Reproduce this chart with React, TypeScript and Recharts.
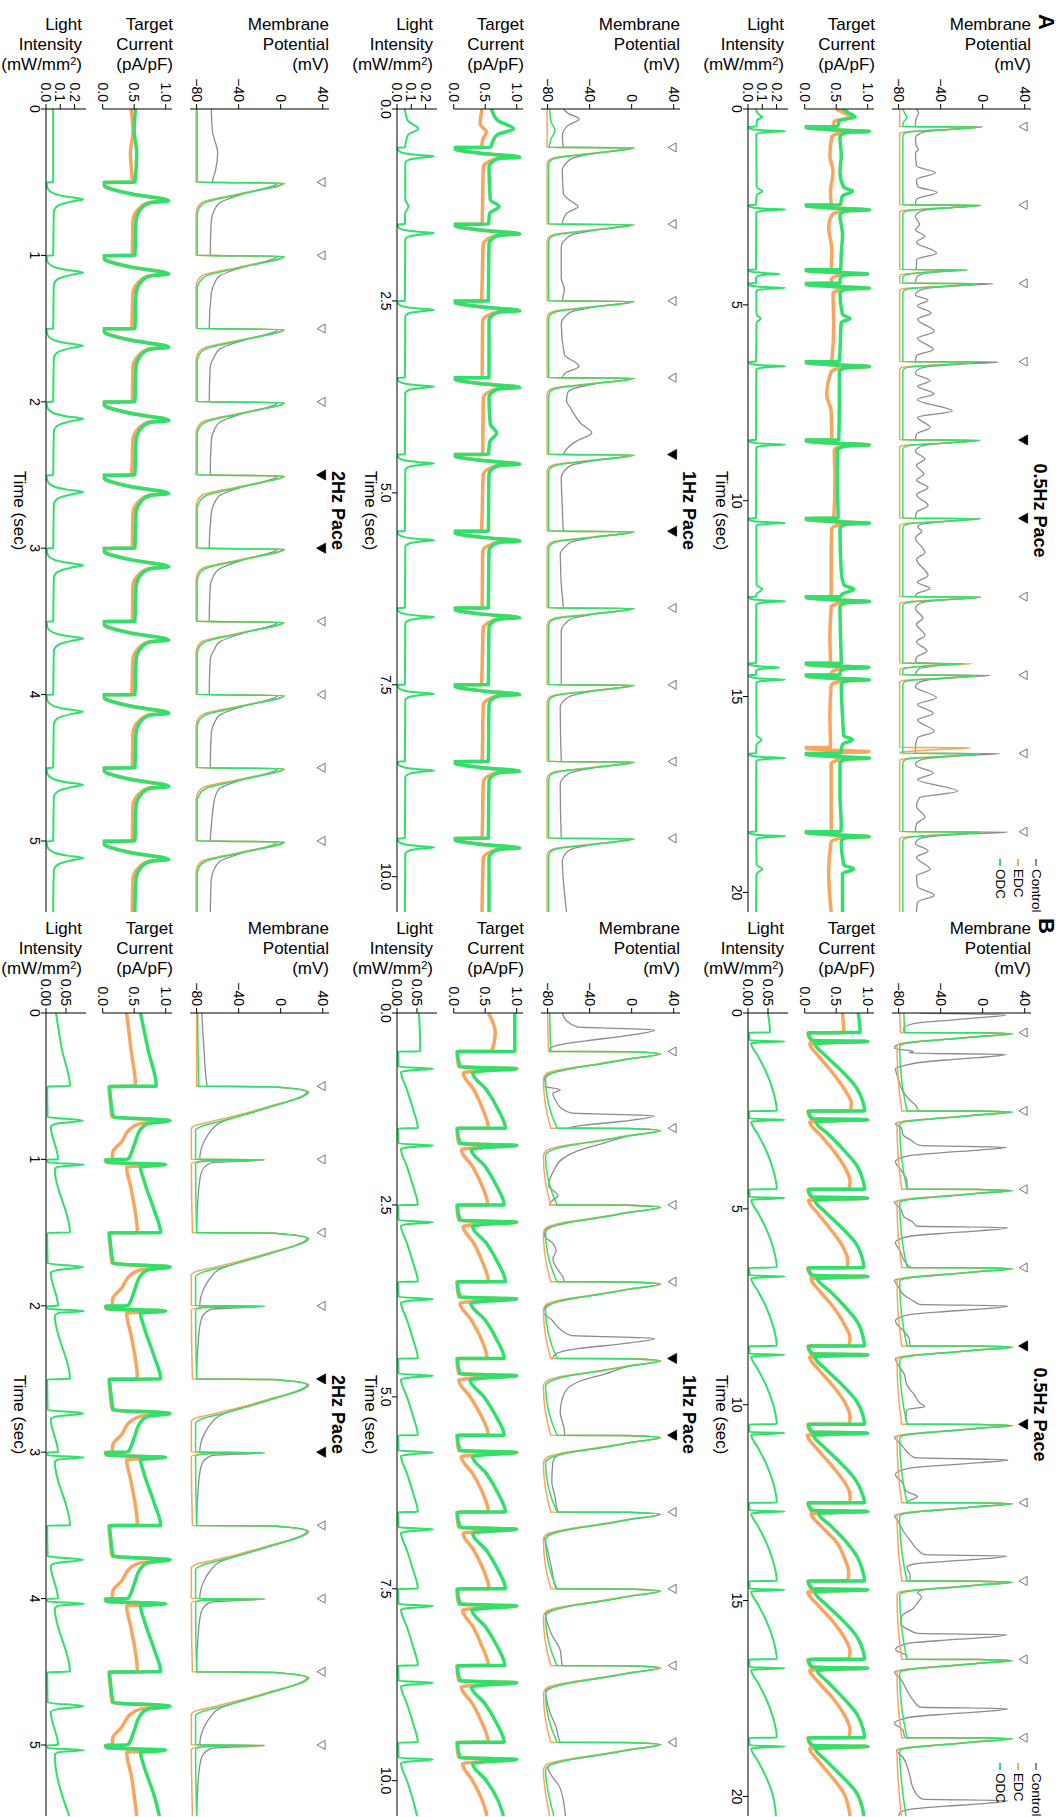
import React from 'react'
import { ComposedChart, Line, XAxis, YAxis, Scatter } from 'recharts'

const FONT = '"Liberation Sans", Arial, Helvetica, sans-serif'
const GRAY = '#8c8c8c'
const ORANGE = '#f9a55e'
const GREEN = '#30e06a'

// ---------- paced beats (s) ----------
const a05Beats = [0.45, 2.45, 4.45, 6.45, 8.45, 10.45, 12.45, 14.45, 16.45, 18.45]
const a05Filled = [8.45, 10.45]
const a1Beats = [0.5, 1.5, 2.5, 3.5, 4.5, 5.5, 6.5, 7.5, 8.5, 9.5]
const a1Filled = [4.5, 5.5]
const a2Beats = [0.5, 1, 1.5, 2, 2.5, 3, 3.5, 4, 4.5, 5]
const a2Filled = [2.5, 3]
const b05Beats = [0.5, 2.5, 4.5, 6.5, 8.5, 10.5, 12.5, 14.5, 16.5, 18.5]
const b05Filled = [8.5, 10.5]
const b1Beats = [0.5, 1.5, 2.5, 3.5, 4.5, 5.5, 6.5, 7.5, 8.5, 9.5]
const b1Filled = [4.5, 5.5]
const b2Beats = [0.5, 1, 1.5, 2, 2.5, 3, 3.5, 4, 4.5, 5]
const b2Filled = [2.5, 3]

// ---------- tick labels ----------
const t05Ticks = [0, 5, 10, 15, 20]
const t1Ticks = [0, 2.5, 5, 7.5, 10]
const t2Ticks = [0, 1, 2, 3, 4, 5]
const mpTicks = [-80, -40, 0, 40]
const tcTicks = [0, 0.5, 1]
const liTicksA = [0, 0.1, 0.2]
const liTicksB = [0, 0.05]

// ---------- A, 0.5 Hz : [time s, value] ----------
const a05MpCtrl = [
  [0, -63], [0.1, -61], [0.22, -63], [0.35, -64], [0.45, -64],
  [0.456, 0], [0.53, -36], [0.59, -56], [0.66, -62], [0.75, -64], [0.95, -63], [1.03, -61], [1.12, -64], [1.45, -63], [1.63, -45], [1.8, -63], [1.98, -62], [2.13, -43.5], [2.3, -63], [2.45, -64],
  [2.456, -2], [2.53, -36], [2.59, -56], [2.66, -62], [2.75, -64], [2.95, -60], [3.08, -64], [3.25, -55], [3.4, -63], [3.68, -44], [3.85, -63], [4.05, -63], [4.1, -64], [4.106, -25], [4.2, -56], [4.3, -63], [4.45, -64],
  [4.456, 10], [4.53, -33], [4.59, -55], [4.66, -62], [4.75, -64], [4.88, -52], [5.02, -62], [5.21, -49], [5.37, -62], [5.68, -46], [5.85, -62], [6.14, -47], [6.3, -63], [6.45, -64],
  [6.456, 15], [6.53, -32], [6.59, -55], [6.66, -62], [6.75, -64], [6.94, -50], [7.08, -62], [7.27, -46], [7.42, -62], [7.71, -29], [7.87, -62], [8.13, -50], [8.3, -63], [8.45, -64],
  [8.456, -3], [8.53, -36], [8.59, -56], [8.66, -62], [8.75, -64], [8.93, -55], [9.1, -63], [9.32, -56], [9.48, -63], [9.66, -52], [9.85, -63], [10.12, -52], [10.3, -63], [10.45, -64],
  [10.456, -2], [10.53, -36], [10.59, -56], [10.66, -62], [10.78, -58], [10.95, -64], [11.32, -55], [11.5, -63], [11.91, -52], [12.08, -62], [12.24, -50], [12.38, -63], [12.45, -64],
  [12.456, -2], [12.53, -36], [12.59, -56], [12.66, -62], [12.75, -64], [13.0, -57], [13.15, -63], [13.44, -55], [13.6, -63], [13.84, -53], [14.0, -63], [14.12, -64], [14.17, -35], [14.28, -60], [14.45, -64],
  [14.456, 7], [14.53, -34], [14.59, -55], [14.66, -62], [14.75, -64], [15.03, -44], [15.2, -62], [15.43, -47], [15.6, -62], [15.89, -46], [16.05, -62], [16.3, -64], [16.45, -64],
  [16.456, 16], [16.53, -32], [16.59, -55], [16.66, -62], [16.75, -64], [16.95, -47], [17.12, -62], [17.42, -24], [17.58, -60], [17.8, -63], [18.08, -55], [18.25, -63], [18.45, -64],
  [18.456, 24], [18.53, -30], [18.59, -54], [18.66, -62], [18.75, -64], [18.94, -52], [19.1, -63], [19.41, -50], [19.58, -63], [19.85, -62], [20.07, -46], [20.25, -62], [20.5, -63],
]
const a05MpEdc = [
  [0, -79], [0.45, -79], [0.456, -2], [0.53, -40], [0.585, -74], [0.63, -79],
  [2.45, -79], [2.456, -2], [2.53, -40], [2.585, -74], [2.63, -79],
  [4.1, -79], [4.106, -14], [4.17, -55], [4.23, -78], [4.28, -79],
  [4.45, -79], [4.456, -4], [4.53, -40], [4.585, -74], [4.63, -79],
  [6.45, -79], [6.456, -5], [6.53, -40], [6.585, -74], [6.63, -79],
  [8.45, -79], [8.456, -2], [8.53, -40], [8.585, -74], [8.63, -79],
  [10.45, -79], [10.456, -2], [10.53, -40], [10.585, -74], [10.63, -79],
  [12.45, -79], [12.456, -2], [12.53, -40], [12.585, -74], [12.63, -79],
  [14.15, -79], [14.156, -10], [14.22, -52], [14.28, -77], [14.33, -79],
  [14.45, -79], [14.456, -3], [14.53, -40], [14.585, -74], [14.63, -79],
  [16.3, -79], [16.306, -12], [16.37, -54], [16.42, -78],
  [16.45, -79], [16.456, -2], [16.53, -40], [16.585, -74], [16.63, -79],
  [18.45, -79], [18.456, -2], [18.53, -40], [18.585, -74], [18.63, -79], [20.5, -79],
]
const a05MpOdc = [
  [0, -76], [0.12, -74], [0.22, -72], [0.32, -75], [0.45, -76], [0.456, -2], [0.53, -37], [0.59, -70], [0.64, -75], [0.7, -76],
  [2.45, -76], [2.456, -2], [2.53, -37], [2.59, -70], [2.64, -75], [2.7, -76],
  [4.1, -76], [4.106, -15], [4.17, -52], [4.23, -73], [4.3, -76],
  [4.45, -76], [4.456, -4], [4.53, -38], [4.59, -70], [4.64, -75], [4.7, -76],
  [6.45, -76], [6.456, -5], [6.53, -38], [6.59, -70], [6.64, -75], [6.7, -76],
  [8.45, -76], [8.456, -3], [8.53, -37], [8.59, -70], [8.64, -75], [8.7, -76],
  [10.45, -76], [10.456, -2], [10.53, -37], [10.59, -70], [10.64, -75], [10.7, -76],
  [12.45, -76], [12.456, -2], [12.53, -37], [12.59, -70], [12.64, -75], [12.7, -76],
  [14.15, -76], [14.156, -18], [14.22, -55], [14.28, -74], [14.33, -76],
  [14.45, -76], [14.456, -3], [14.53, -37], [14.59, -70], [14.64, -75], [14.7, -76],
  [16.45, -76], [16.456, -2], [16.53, -37], [16.59, -70], [16.64, -75], [16.7, -76],
  [18.45, -76], [18.456, -2], [18.53, -37], [18.59, -70], [18.64, -75], [18.7, -76], [20.5, -76],
]
const a05TcEdc = [
  [0, 0.5], [0.1, 0.62], [0.2, 0.75], [0.3, 0.48], [0.45, 0.44],
  [0.452, 0], [0.48, 0.04], [0.53, 0.45], [0.575, 1.02], [0.59, 0.72], [0.62, 0.55], [0.71, 0.43], [1.2, 0.4], [1.6, 0.45], [2.1, 0.41], [2.45, 0.42],
  [2.452, 0], [2.48, 0.04], [2.53, 0.45], [2.575, 1.02], [2.59, 0.72], [2.62, 0.55], [2.71, 0.43], [3.0, 0.38], [3.6, 0.43], [4.1, 0.42],
  [4.102, 0], [4.13, 0.04], [4.17, 0.45], [4.21, 1.0], [4.225, 0.7], [4.26, 0.5], [4.35, 0.42], [4.45, 0.44],
  [4.452, 0], [4.48, 0.04], [4.53, 0.45], [4.575, 1.02], [4.59, 0.72], [4.62, 0.55], [4.71, 0.45], [5.5, 0.46], [6.45, 0.43],
  [6.452, 0], [6.48, 0.04], [6.53, 0.45], [6.575, 1.02], [6.59, 0.72], [6.62, 0.55], [6.71, 0.42], [7.3, 0.35], [7.7, 0.42], [8.45, 0.43],
  [8.452, 0], [8.48, 0.04], [8.53, 0.45], [8.575, 1.02], [8.59, 0.72], [8.62, 0.55], [8.71, 0.47], [9.5, 0.48], [10.45, 0.46],
  [10.452, 0], [10.48, 0.04], [10.53, 0.45], [10.575, 1.02], [10.59, 0.72], [10.62, 0.55], [10.71, 0.43], [11.5, 0.42], [12.45, 0.42],
  [12.452, 0], [12.48, 0.04], [12.53, 0.45], [12.575, 1.02], [12.59, 0.72], [12.62, 0.55], [12.71, 0.42], [13.5, 0.4], [14.15, 0.41],
  [14.152, 0], [14.18, 0.04], [14.22, 0.45], [14.26, 1.02], [14.275, 0.7], [14.31, 0.5], [14.4, 0.42], [14.45, 0.42],
  [14.452, 0], [14.48, 0.04], [14.53, 0.45], [14.575, 1.02], [14.59, 0.72], [14.62, 0.55], [14.71, 0.42], [15.5, 0.4], [16.3, 0.41],
  [16.302, 0], [16.33, 0.04], [16.37, 0.45], [16.41, 1.02], [16.425, 0.7], [16.44, 0.5], [16.45, 0.45],
  [16.452, 0], [16.48, 0.04], [16.53, 0.45], [16.575, 1.02], [16.59, 0.72], [16.62, 0.55], [16.71, 0.42], [17.5, 0.42], [18.45, 0.42],
  [18.452, 0], [18.48, 0.04], [18.53, 0.45], [18.575, 1.02], [18.59, 0.72], [18.62, 0.55], [18.71, 0.42], [19.5, 0.38], [20.5, 0.42],
]
const a05TcOdc = [
  [0, 0.6], [0.1, 0.7], [0.2, 0.8], [0.3, 0.55], [0.45, 0.52],
  [0.452, 0], [0.48, 0.04], [0.53, 0.45], [0.577, 1.03], [0.59, 0.75], [0.62, 0.62], [0.71, 0.56], [1.2, 0.58], [1.6, 0.56], [2.0, 0.62], [2.1, 0.76], [2.22, 0.6], [2.45, 0.56],
  [2.452, 0], [2.48, 0.04], [2.53, 0.45], [2.577, 1.03], [2.59, 0.75], [2.62, 0.62], [2.71, 0.56], [3.2, 0.6], [3.7, 0.58], [4.1, 0.57],
  [4.102, 0], [4.13, 0.04], [4.17, 0.45], [4.21, 1.0], [4.225, 0.72], [4.26, 0.6], [4.35, 0.56], [4.45, 0.56],
  [4.452, 0], [4.48, 0.04], [4.53, 0.45], [4.577, 1.03], [4.59, 0.75], [4.62, 0.62], [4.71, 0.56], [5.25, 0.6], [5.35, 0.72], [5.45, 0.58], [6.45, 0.55],
  [6.452, 0], [6.48, 0.04], [6.53, 0.45], [6.577, 1.03], [6.59, 0.75], [6.62, 0.62], [6.71, 0.55], [7.5, 0.55], [8.45, 0.54],
  [8.452, 0], [8.48, 0.04], [8.53, 0.45], [8.577, 1.03], [8.59, 0.75], [8.62, 0.62], [8.71, 0.52], [9.6, 0.52], [10.45, 0.53],
  [10.452, 0], [10.48, 0.04], [10.53, 0.45], [10.577, 1.03], [10.59, 0.75], [10.62, 0.62], [10.71, 0.56], [11.8, 0.58], [12.15, 0.62], [12.26, 0.78], [12.38, 0.6], [12.45, 0.56],
  [12.452, 0], [12.48, 0.04], [12.53, 0.45], [12.577, 1.03], [12.59, 0.75], [12.62, 0.62], [12.71, 0.56], [13.5, 0.57], [14.15, 0.58],
  [14.152, 0], [14.18, 0.04], [14.22, 0.45], [14.26, 1.02], [14.275, 0.72], [14.31, 0.6], [14.4, 0.56], [14.45, 0.56],
  [14.452, 0], [14.48, 0.04], [14.53, 0.45], [14.577, 1.03], [14.59, 0.75], [14.62, 0.62], [14.71, 0.58], [15.5, 0.6], [16.0, 0.62], [16.1, 0.76], [16.22, 0.6], [16.45, 0.57],
  [16.452, 0], [16.48, 0.04], [16.53, 0.45], [16.577, 1.03], [16.59, 0.75], [16.62, 0.62], [16.71, 0.56], [17.5, 0.56], [18.3, 0.58], [18.45, 0.57],
  [18.452, 0], [18.48, 0.04], [18.53, 0.45], [18.577, 1.03], [18.59, 0.75], [18.62, 0.62], [18.71, 0.58], [19.3, 0.62], [19.4, 0.78], [19.52, 0.6], [20.5, 0.6],
]
const a05LiOdc = [
  [0, 0.055], [0.12, 0.07], [0.2, 0.1], [0.28, 0.065], [0.45, 0.056],
  [0.452, 0.004], [0.49, 0.01], [0.53, 0.06], [0.55, 0.15], [0.566, 0.26], [0.58, 0.19], [0.61, 0.085], [0.65, 0.058], [2.0, 0.06], [2.1, 0.1], [2.2, 0.06], [2.45, 0.056],
  [2.452, 0.004], [2.49, 0.01], [2.53, 0.06], [2.55, 0.15], [2.566, 0.26], [2.58, 0.19], [2.61, 0.085], [2.65, 0.058], [4.1, 0.056],
  [4.102, 0.004], [4.14, 0.01], [4.17, 0.06], [4.19, 0.13], [4.21, 0.22], [4.225, 0.15], [4.26, 0.07], [4.3, 0.056], [4.45, 0.056],
  [4.452, 0.004], [4.49, 0.01], [4.53, 0.06], [4.55, 0.15], [4.566, 0.26], [4.58, 0.19], [4.61, 0.085], [4.65, 0.058], [5.25, 0.06], [5.35, 0.09], [5.45, 0.06], [6.45, 0.056],
  [6.452, 0.004], [6.49, 0.01], [6.53, 0.06], [6.55, 0.15], [6.566, 0.26], [6.58, 0.19], [6.61, 0.085], [6.65, 0.058], [8.45, 0.056],
  [8.452, 0.004], [8.49, 0.01], [8.53, 0.06], [8.55, 0.15], [8.566, 0.26], [8.58, 0.19], [8.61, 0.085], [8.65, 0.058], [10.45, 0.056],
  [10.452, 0.004], [10.49, 0.01], [10.53, 0.06], [10.55, 0.15], [10.566, 0.26], [10.58, 0.19], [10.61, 0.085], [10.65, 0.058], [12.15, 0.06], [12.26, 0.1], [12.38, 0.06], [12.45, 0.056],
  [12.452, 0.004], [12.49, 0.01], [12.53, 0.06], [12.55, 0.15], [12.566, 0.26], [12.58, 0.19], [12.61, 0.085], [12.65, 0.058], [14.15, 0.056],
  [14.152, 0.004], [14.19, 0.01], [14.22, 0.06], [14.24, 0.13], [14.26, 0.22], [14.275, 0.15], [14.31, 0.07], [14.35, 0.056], [14.45, 0.056],
  [14.452, 0.004], [14.49, 0.01], [14.53, 0.06], [14.55, 0.15], [14.566, 0.26], [14.58, 0.19], [14.61, 0.085], [14.65, 0.058], [16.0, 0.06], [16.1, 0.095], [16.22, 0.06], [16.45, 0.056],
  [16.452, 0.004], [16.49, 0.01], [16.53, 0.06], [16.55, 0.15], [16.566, 0.26], [16.58, 0.19], [16.61, 0.085], [16.65, 0.058], [18.45, 0.056],
  [18.452, 0.004], [18.49, 0.01], [18.53, 0.06], [18.55, 0.15], [18.566, 0.26], [18.58, 0.19], [18.61, 0.085], [18.65, 0.058], [19.3, 0.06], [19.4, 0.1], [19.52, 0.06], [20.5, 0.056],
]

// ---------- A, 1 Hz ----------
const a1MpCtrl = [
  [0, -65], [0.06, -60], [0.13, -50], [0.22, -61], [0.35, -66], [0.5, -65],
  [0.506, -2], [0.58, -36], [0.64, -56], [0.7, -62], [0.8, -66], [1.1, -65], [1.2, -58], [1.27, -51], [1.36, -62], [1.5, -66],
  [1.506, -2], [1.58, -36], [1.64, -57], [1.7, -63], [1.8, -67], [2.2, -67], [2.35, -64], [2.5, -66],
  [2.506, -2], [2.58, -36], [2.64, -57], [2.7, -63], [2.8, -67], [3.2, -64], [3.35, -50], [3.44, -63], [3.5, -66],
  [3.506, -1], [3.58, -35], [3.64, -55], [3.7, -61], [3.8, -62], [3.9, -58], [4.1, -48], [4.22, -38], [4.33, -53], [4.45, -63], [4.5, -65],
  [4.506, -2], [4.58, -36], [4.64, -57], [4.7, -63], [4.8, -67], [5.2, -66], [5.5, -65],
  [5.506, -2], [5.58, -36], [5.64, -57], [5.7, -63], [5.8, -68], [6.5, -65],
  [6.506, -2], [6.58, -36], [6.64, -57], [6.7, -63], [6.8, -67], [7.5, -67],
  [7.506, -2], [7.58, -36], [7.64, -57], [7.7, -64], [7.8, -68], [8.5, -67],
  [8.506, -2], [8.58, -36], [8.64, -57], [8.7, -64], [8.8, -68], [9.5, -67],
  [9.506, -2], [9.58, -36], [9.64, -57], [9.7, -63], [9.8, -66], [10.2, -64], [10.46, -62],
]
const a1MpEdc = [
  [0, -80.5], [0.5, -80.5], [0.506, 3], [0.58, -40], [0.635, -74], [0.68, -79.5], [0.72, -80.5],
  [1.5, -80.5], [1.506, 3], [1.58, -40], [1.635, -74], [1.68, -79.5], [1.72, -80.5],
  [2.5, -80.5], [2.506, 3], [2.58, -40], [2.635, -74], [2.68, -79.5], [2.72, -80.5],
  [3.5, -80.5], [3.506, 3], [3.58, -40], [3.635, -74], [3.68, -79.5], [3.72, -80.5],
  [4.5, -80.5], [4.506, 3], [4.58, -40], [4.635, -74], [4.68, -79.5], [4.72, -80.5],
  [5.5, -80.5], [5.506, 3], [5.58, -40], [5.635, -74], [5.68, -79.5], [5.72, -80.5],
  [6.5, -80.5], [6.506, 3], [6.58, -40], [6.635, -74], [6.68, -79.5], [6.72, -80.5],
  [7.5, -80.5], [7.506, 3], [7.58, -40], [7.635, -74], [7.68, -79.5], [7.72, -80.5],
  [8.5, -80.5], [8.506, 3], [8.58, -40], [8.635, -74], [8.68, -79.5], [8.72, -80.5],
  [9.5, -80.5], [9.506, 3], [9.58, -40], [9.635, -74], [9.68, -79.5], [9.72, -80.5], [10.46, -80.5],
]
const a1MpOdc = [
  [0, -78], [0.15, -77], [0.28, -73], [0.4, -77], [0.5, -78.5],
  [0.506, 2], [0.58, -37], [0.64, -72], [0.69, -78], [0.74, -79], [1.5, -79],
  [1.506, 2], [1.58, -37], [1.64, -72], [1.69, -78], [1.74, -79], [2.5, -79],
  [2.506, 2], [2.58, -37], [2.64, -72], [2.69, -78], [2.74, -79], [3.5, -79],
  [3.506, 2], [3.58, -37], [3.64, -72], [3.69, -78], [3.74, -79], [4.5, -79],
  [4.506, 2], [4.58, -37], [4.64, -72], [4.69, -78], [4.74, -79], [5.5, -79],
  [5.506, 2], [5.58, -37], [5.64, -72], [5.69, -78], [5.74, -79], [6.5, -79],
  [6.506, 2], [6.58, -37], [6.64, -72], [6.69, -78], [6.74, -79], [7.5, -79],
  [7.506, 2], [7.58, -37], [7.64, -72], [7.69, -78], [7.74, -79], [8.5, -79],
  [8.506, 2], [8.58, -37], [8.64, -72], [8.69, -78], [8.74, -79], [9.5, -79],
  [9.506, 2], [9.58, -37], [9.64, -72], [9.69, -78], [9.74, -79], [10.46, -79],
]
const a1TcEdc = [
  [0, 0.45], [0.2, 0.42], [0.3, 0.52], [0.4, 0.46], [0.5, 0.44],
  [0.502, 0], [0.53, 0.05], [0.58, 0.47], [0.625, 1.03], [0.64, 0.72], [0.67, 0.6], [0.76, 0.47], [1.5, 0.45],
  [1.502, 0], [1.53, 0.05], [1.58, 0.47], [1.625, 1.03], [1.64, 0.72], [1.67, 0.6], [1.76, 0.47], [2.5, 0.44],
  [2.502, 0], [2.53, 0.05], [2.58, 0.47], [2.625, 1.03], [2.64, 0.72], [2.67, 0.6], [2.76, 0.46], [3.5, 0.45],
  [3.502, 0], [3.53, 0.05], [3.58, 0.47], [3.625, 1.03], [3.64, 0.72], [3.67, 0.6], [3.76, 0.47], [4.5, 0.46],
  [4.502, 0], [4.53, 0.05], [4.58, 0.47], [4.625, 1.03], [4.64, 0.72], [4.67, 0.6], [4.76, 0.47], [5.5, 0.44],
  [5.502, 0], [5.53, 0.05], [5.58, 0.47], [5.625, 1.03], [5.64, 0.72], [5.67, 0.6], [5.76, 0.46], [6.5, 0.45],
  [6.502, 0], [6.53, 0.05], [6.58, 0.47], [6.625, 1.03], [6.64, 0.72], [6.67, 0.6], [6.76, 0.47], [7.5, 0.44],
  [7.502, 0], [7.53, 0.05], [7.58, 0.47], [7.625, 1.03], [7.64, 0.72], [7.67, 0.6], [7.76, 0.47], [8.5, 0.45],
  [8.502, 0], [8.53, 0.05], [8.58, 0.47], [8.625, 1.03], [8.64, 0.72], [8.67, 0.6], [8.76, 0.47], [9.5, 0.45],
  [9.502, 0], [9.53, 0.05], [9.58, 0.47], [9.625, 1.03], [9.64, 0.72], [9.67, 0.6], [9.76, 0.47], [10.46, 0.45],
]
const a1TcOdc = [
  [0, 0.6], [0.15, 0.7], [0.26, 0.95], [0.33, 0.7], [0.42, 0.62], [0.5, 0.58],
  [0.502, 0], [0.53, 0.04], [0.58, 0.45], [0.627, 1.05], [0.64, 0.76], [0.67, 0.64], [0.76, 0.56], [1.18, 0.58], [1.27, 0.72], [1.36, 0.57], [1.5, 0.55],
  [1.502, 0], [1.53, 0.04], [1.58, 0.45], [1.627, 1.05], [1.64, 0.76], [1.67, 0.64], [1.76, 0.56], [2.5, 0.55],
  [2.502, 0], [2.53, 0.04], [2.58, 0.45], [2.627, 1.05], [2.64, 0.76], [2.67, 0.64], [2.76, 0.56], [3.5, 0.56],
  [3.502, 0], [3.53, 0.04], [3.58, 0.45], [3.627, 1.05], [3.64, 0.76], [3.67, 0.64], [3.76, 0.56], [4.1, 0.58], [4.22, 0.68], [4.34, 0.57], [4.5, 0.55],
  [4.502, 0], [4.53, 0.04], [4.58, 0.45], [4.627, 1.05], [4.64, 0.76], [4.67, 0.64], [4.76, 0.56], [5.5, 0.55],
  [5.502, 0], [5.53, 0.04], [5.58, 0.45], [5.627, 1.05], [5.64, 0.76], [5.67, 0.64], [5.76, 0.56], [6.5, 0.55],
  [6.502, 0], [6.53, 0.04], [6.58, 0.45], [6.627, 1.05], [6.64, 0.76], [6.67, 0.64], [6.76, 0.56], [7.5, 0.55],
  [7.502, 0], [7.53, 0.04], [7.58, 0.45], [7.627, 1.05], [7.64, 0.76], [7.67, 0.64], [7.76, 0.56], [8.5, 0.55],
  [8.502, 0], [8.53, 0.04], [8.58, 0.45], [8.627, 1.05], [8.64, 0.76], [8.67, 0.64], [8.76, 0.56], [9.5, 0.55],
  [9.502, 0], [9.53, 0.04], [9.58, 0.45], [9.627, 1.05], [9.64, 0.76], [9.67, 0.64], [9.76, 0.56], [10.46, 0.56],
]
const a1LiOdc = [
  [0, 0.055], [0.15, 0.075], [0.26, 0.15], [0.33, 0.08], [0.45, 0.06], [0.5, 0.055],
  [0.502, 0.004], [0.54, 0.01], [0.58, 0.06], [0.6, 0.15], [0.616, 0.26], [0.63, 0.19], [0.66, 0.085], [0.7, 0.058], [1.18, 0.058], [1.27, 0.08], [1.36, 0.057], [1.5, 0.055],
  [1.502, 0.004], [1.54, 0.01], [1.58, 0.06], [1.6, 0.15], [1.616, 0.26], [1.63, 0.19], [1.66, 0.085], [1.7, 0.058], [2.5, 0.055],
  [2.502, 0.004], [2.54, 0.01], [2.58, 0.06], [2.6, 0.15], [2.616, 0.26], [2.63, 0.19], [2.66, 0.085], [2.7, 0.058], [3.5, 0.055],
  [3.502, 0.004], [3.54, 0.01], [3.58, 0.06], [3.6, 0.15], [3.616, 0.26], [3.63, 0.19], [3.66, 0.085], [3.7, 0.058], [4.5, 0.055],
  [4.502, 0.004], [4.54, 0.01], [4.58, 0.06], [4.6, 0.15], [4.616, 0.26], [4.63, 0.19], [4.66, 0.085], [4.7, 0.058], [5.5, 0.055],
  [5.502, 0.004], [5.54, 0.01], [5.58, 0.06], [5.6, 0.15], [5.616, 0.26], [5.63, 0.19], [5.66, 0.085], [5.7, 0.058], [6.5, 0.055],
  [6.502, 0.004], [6.54, 0.01], [6.58, 0.06], [6.6, 0.15], [6.616, 0.26], [6.63, 0.19], [6.66, 0.085], [6.7, 0.058], [7.5, 0.055],
  [7.502, 0.004], [7.54, 0.01], [7.58, 0.06], [7.6, 0.15], [7.616, 0.26], [7.63, 0.19], [7.66, 0.085], [7.7, 0.058], [8.5, 0.055],
  [8.502, 0.004], [8.54, 0.01], [8.58, 0.06], [8.6, 0.15], [8.616, 0.26], [8.63, 0.19], [8.66, 0.085], [8.7, 0.058], [9.5, 0.055],
  [9.502, 0.004], [9.54, 0.01], [9.58, 0.06], [9.6, 0.15], [9.616, 0.26], [9.63, 0.19], [9.66, 0.085], [9.7, 0.058], [10.46, 0.055],
]

// ---------- A, 2 Hz ----------
const a2MpCtrl = [
  [0, -66], [0.15, -65], [0.3, -60], [0.42, -62], [0.5, -65],
  [0.506, -3], [0.58, -36], [0.64, -58], [0.69, -63], [0.76, -66], [1, -67],
  [1.006, -3], [1.08, -36], [1.14, -58], [1.19, -63], [1.26, -66], [1.5, -68],
  [1.506, -3], [1.58, -36], [1.64, -58], [1.69, -63], [1.76, -67], [2, -68],
  [2.006, -3], [2.08, -36], [2.14, -58], [2.19, -63], [2.26, -66], [2.5, -67],
  [2.506, -3], [2.58, -36], [2.64, -58], [2.69, -63], [2.76, -66], [3, -68],
  [3.006, -3], [3.08, -36], [3.14, -58], [3.19, -64], [3.26, -67], [3.5, -68],
  [3.506, -3], [3.58, -36], [3.64, -58], [3.69, -63], [3.76, -67], [4, -68],
  [4.006, -3], [4.08, -36], [4.14, -58], [4.19, -63], [4.26, -66], [4.5, -67],
  [4.506, -3], [4.58, -36], [4.64, -58], [4.69, -62], [4.76, -64], [4.9, -66], [5, -67],
  [5.006, -3], [5.08, -36], [5.14, -58], [5.19, -63], [5.26, -66], [5.485, -67],
]
const a2MpEdc = [
  [0, -80.5], [0.5, -80.5], [0.506, 4], [0.58, -40], [0.635, -74], [0.68, -79.5], [0.72, -80.5],
  [1, -80.5], [1.006, 4], [1.08, -40], [1.135, -74], [1.18, -79.5], [1.22, -80.5],
  [1.5, -80.5], [1.506, 4], [1.58, -40], [1.635, -74], [1.68, -79.5], [1.72, -80.5],
  [2, -80.5], [2.006, 4], [2.08, -40], [2.135, -74], [2.18, -79.5], [2.22, -80.5],
  [2.5, -80.5], [2.506, 4], [2.58, -40], [2.635, -74], [2.68, -79.5], [2.72, -80.5],
  [3, -80.5], [3.006, 4], [3.08, -40], [3.135, -74], [3.18, -79.5], [3.22, -80.5],
  [3.5, -80.5], [3.506, 4], [3.58, -40], [3.635, -74], [3.68, -79.5], [3.72, -80.5],
  [4, -80.5], [4.006, 4], [4.08, -40], [4.135, -74], [4.18, -79.5], [4.22, -80.5],
  [4.5, -80.5], [4.506, 4], [4.58, -40], [4.635, -74], [4.68, -79.5], [4.72, -80.5],
  [5, -80.5], [5.006, 4], [5.08, -40], [5.135, -74], [5.18, -79.5], [5.22, -80.5], [5.485, -80.5],
]
const a2MpOdc = [
  [0, -79.5], [0.5, -79.5], [0.506, 2], [0.58, -37], [0.64, -72], [0.69, -78.5], [0.73, -79.5],
  [1, -79.5], [1.006, 3], [1.08, -36], [1.14, -71], [1.19, -78], [1.23, -79.5],
  [1.5, -79.5], [1.506, 2], [1.58, -37], [1.64, -72], [1.69, -78.5], [1.73, -79.5],
  [2, -79.5], [2.006, 3], [2.08, -37], [2.14, -72], [2.19, -78.5], [2.23, -79.5],
  [2.5, -79.5], [2.506, 2], [2.58, -36], [2.64, -71], [2.69, -78], [2.73, -79.5],
  [3, -79.5], [3.006, 3], [3.08, -37], [3.14, -72], [3.19, -78.5], [3.23, -79.5],
  [3.5, -79.5], [3.506, 2], [3.58, -37], [3.64, -72], [3.69, -78.5], [3.73, -79.5],
  [4, -79.5], [4.006, 3], [4.08, -37], [4.14, -72], [4.19, -78.5], [4.23, -79.5],
  [4.5, -79.5], [4.506, 2], [4.58, -36], [4.64, -71], [4.69, -78], [4.73, -79.5],
  [5, -79.5], [5.006, 3], [5.08, -37], [5.14, -72], [5.19, -78.5], [5.23, -79.5], [5.485, -79.5],
]
const a2TcEdc = [
  [0, 0.45], [0.15, 0.48], [0.3, 0.44], [0.5, 0.47],
  [0.502, 0], [0.53, 0.05], [0.58, 0.47], [0.625, 1.03], [0.64, 0.72], [0.67, 0.6], [0.76, 0.48], [1, 0.47],
  [1.002, 0], [1.03, 0.05], [1.08, 0.47], [1.125, 1.03], [1.14, 0.72], [1.17, 0.6], [1.26, 0.48], [1.5, 0.46],
  [1.502, 0], [1.53, 0.05], [1.58, 0.47], [1.625, 1.03], [1.64, 0.72], [1.67, 0.6], [1.76, 0.48], [2, 0.47],
  [2.002, 0], [2.03, 0.05], [2.08, 0.47], [2.125, 1.03], [2.14, 0.72], [2.17, 0.6], [2.26, 0.48], [2.5, 0.46],
  [2.502, 0], [2.53, 0.05], [2.58, 0.47], [2.625, 1.03], [2.64, 0.72], [2.67, 0.6], [2.76, 0.48], [3, 0.47],
  [3.002, 0], [3.03, 0.05], [3.08, 0.47], [3.125, 1.03], [3.14, 0.72], [3.17, 0.6], [3.26, 0.48], [3.5, 0.47],
  [3.502, 0], [3.53, 0.05], [3.58, 0.47], [3.625, 1.03], [3.64, 0.72], [3.67, 0.6], [3.76, 0.48], [4, 0.46],
  [4.002, 0], [4.03, 0.05], [4.08, 0.47], [4.125, 1.03], [4.14, 0.72], [4.17, 0.6], [4.26, 0.48], [4.5, 0.47],
  [4.502, 0], [4.53, 0.05], [4.58, 0.47], [4.625, 1.03], [4.64, 0.72], [4.67, 0.6], [4.76, 0.48], [5, 0.47],
  [5.002, 0], [5.03, 0.05], [5.08, 0.47], [5.125, 1.03], [5.14, 0.72], [5.17, 0.6], [5.26, 0.48], [5.485, 0.47],
]
const a2TcOdc = [
  [0, 0.52], [0.15, 0.5], [0.3, 0.54], [0.5, 0.51],
  [0.502, 0], [0.53, 0.04], [0.58, 0.45], [0.627, 1.05], [0.64, 0.76], [0.67, 0.63], [0.76, 0.53], [1, 0.51],
  [1.002, 0], [1.03, 0.04], [1.08, 0.45], [1.127, 1.05], [1.14, 0.76], [1.17, 0.63], [1.26, 0.53], [1.5, 0.51],
  [1.502, 0], [1.53, 0.04], [1.58, 0.45], [1.627, 1.05], [1.64, 0.76], [1.67, 0.63], [1.76, 0.53], [2, 0.51],
  [2.002, 0], [2.03, 0.04], [2.08, 0.45], [2.127, 1.05], [2.14, 0.76], [2.17, 0.63], [2.26, 0.53], [2.5, 0.51],
  [2.502, 0], [2.53, 0.04], [2.58, 0.45], [2.627, 1.05], [2.64, 0.76], [2.67, 0.63], [2.76, 0.53], [3, 0.51],
  [3.002, 0], [3.03, 0.04], [3.08, 0.45], [3.127, 1.05], [3.14, 0.76], [3.17, 0.63], [3.26, 0.53], [3.5, 0.51],
  [3.502, 0], [3.53, 0.04], [3.58, 0.45], [3.627, 1.05], [3.64, 0.76], [3.67, 0.63], [3.76, 0.53], [4, 0.51],
  [4.002, 0], [4.03, 0.04], [4.08, 0.45], [4.127, 1.05], [4.14, 0.76], [4.17, 0.63], [4.26, 0.53], [4.5, 0.51],
  [4.502, 0], [4.53, 0.04], [4.58, 0.45], [4.627, 1.05], [4.64, 0.76], [4.67, 0.63], [4.76, 0.53], [5, 0.51],
  [5.002, 0], [5.03, 0.04], [5.08, 0.45], [5.127, 1.05], [5.14, 0.76], [5.17, 0.63], [5.26, 0.53], [5.485, 0.51],
]
const a2LiOdc = [
  [0, 0.05], [0.5, 0.05],
  [0.502, 0.004], [0.54, 0.01], [0.58, 0.06], [0.6, 0.15], [0.616, 0.26], [0.63, 0.19], [0.66, 0.085], [0.7, 0.055], [1, 0.05],
  [1.002, 0.004], [1.04, 0.01], [1.08, 0.06], [1.1, 0.15], [1.116, 0.26], [1.13, 0.19], [1.16, 0.085], [1.2, 0.055], [1.5, 0.05],
  [1.502, 0.004], [1.54, 0.01], [1.58, 0.06], [1.6, 0.15], [1.616, 0.26], [1.63, 0.19], [1.66, 0.085], [1.7, 0.055], [2, 0.05],
  [2.002, 0.004], [2.04, 0.01], [2.08, 0.06], [2.1, 0.15], [2.116, 0.26], [2.13, 0.19], [2.16, 0.085], [2.2, 0.055], [2.5, 0.05],
  [2.502, 0.004], [2.54, 0.01], [2.58, 0.06], [2.6, 0.15], [2.616, 0.26], [2.63, 0.19], [2.66, 0.085], [2.7, 0.055], [3, 0.05],
  [3.002, 0.004], [3.04, 0.01], [3.08, 0.06], [3.1, 0.15], [3.116, 0.26], [3.13, 0.19], [3.16, 0.085], [3.2, 0.055], [3.5, 0.05],
  [3.502, 0.004], [3.54, 0.01], [3.58, 0.06], [3.6, 0.15], [3.616, 0.26], [3.63, 0.19], [3.66, 0.085], [3.7, 0.055], [4, 0.05],
  [4.002, 0.004], [4.04, 0.01], [4.08, 0.06], [4.1, 0.15], [4.116, 0.26], [4.13, 0.19], [4.16, 0.085], [4.2, 0.055], [4.5, 0.05],
  [4.502, 0.004], [4.54, 0.01], [4.58, 0.06], [4.6, 0.15], [4.616, 0.26], [4.63, 0.19], [4.66, 0.085], [4.7, 0.055], [5, 0.05],
  [5.002, 0.004], [5.04, 0.01], [5.08, 0.06], [5.1, 0.15], [5.116, 0.26], [5.13, 0.19], [5.16, 0.085], [5.2, 0.055], [5.485, 0.05],
]

// ---------- B, 0.5 Hz ----------
const b05MpCtrl = [
  [0, -60], [0.05, 22], [0.12, -3], [0.18, -30], [0.24, -58], [0.3, -70], [0.38, -75], [0.5, -75],
  [0.504, -3], [0.53, 27], [0.6, -3], [0.66, -28], [0.71, -52], [0.76, -70], [0.82, -82], [0.9, -84], [0.98, -66], [1.02, -70], [1.06, 22], [1.14, -5], [1.2, -35], [1.27, -62], [1.34, -74], [1.42, -83], [1.7, -80], [2.0, -76], [2.2, -70], [2.35, -64], [2.5, -60],
  [2.504, -3], [2.53, 27], [2.6, -3], [2.66, -28], [2.71, -52], [2.76, -70], [2.82, -83], [2.95, -77], [3.1, -76], [3.25, -68], [3.38, -60], [3.43, 23], [3.5, -3], [3.56, -35], [3.62, -64], [3.7, -78], [3.8, -83], [4.0, -78], [4.3, -72], [4.5, -72],
  [4.504, -3], [4.53, 27], [4.6, -3], [4.66, -28], [4.71, -52], [4.76, -70], [4.82, -84], [5.0, -78], [5.2, -75], [5.35, -66], [5.44, -63], [5.48, 24], [5.56, -3], [5.62, -35], [5.68, -64], [5.76, -78], [5.86, -83], [6.1, -78], [6.3, -75], [6.5, -68],
  [6.504, -3], [6.53, 27], [6.6, -3], [6.66, -28], [6.71, -52], [6.76, -70], [6.82, -84], [7.0, -80], [7.2, -75], [7.35, -66], [7.44, -60], [7.48, 24], [7.56, -3], [7.62, -35], [7.68, -64], [7.76, -78], [7.86, -83], [8.1, -76], [8.3, -70], [8.5, -69],
  [8.504, -3], [8.53, 27], [8.6, -3], [8.66, -28], [8.71, -52], [8.76, -70], [8.82, -83], [9.0, -80], [9.2, -75], [9.5, -72], [9.75, -65], [9.95, -60], [10.05, -55], [10.12, -72], [10.3, -73], [10.5, -72],
  [10.504, -3], [10.53, 27], [10.6, -3], [10.66, -28], [10.71, -52], [10.76, -70], [10.82, -84], [11.0, -78], [11.2, -72], [11.35, -65], [11.41, 24], [11.48, -3], [11.54, -35], [11.6, -64], [11.68, -78], [11.78, -83], [12.0, -76], [12.2, -73], [12.35, -62], [12.45, -70], [12.5, -72],
  [12.504, -3], [12.53, 27], [12.6, -3], [12.66, -28], [12.71, -52], [12.76, -70], [12.82, -84], [13.0, -80], [13.25, -75], [13.5, -68], [13.75, -60], [13.83, -55], [13.86, 23], [13.94, -3], [14.0, -35], [14.06, -64], [14.15, -72], [14.35, -69], [14.5, -69],
  [14.504, -3], [14.53, 27], [14.6, -3], [14.66, -28], [14.71, -52], [14.8, -62], [14.9, -58], [15.05, -62], [15.2, -66], [15.4, -77], [15.6, -78], [15.75, -70], [15.84, -62], [15.87, 23], [15.95, -3], [16.01, -35], [16.07, -64], [16.15, -78], [16.25, -83], [16.4, -73], [16.5, -72],
  [16.504, -3], [16.53, 27], [16.6, -3], [16.66, -28], [16.71, -52], [16.76, -70], [16.82, -84], [17.0, -78], [17.3, -72], [17.55, -66], [17.72, -60], [17.76, 24], [17.84, -3], [17.9, -35], [17.96, -64], [18.04, -78], [18.13, -84], [18.3, -76], [18.5, -74],
  [18.504, -3], [18.53, 27], [18.6, -3], [18.66, -28], [18.71, -52], [18.76, -70], [18.82, -82], [19.0, -76], [19.4, -70], [19.8, -66], [20.0, -61], [20.07, -57], [20.11, 24], [20.19, -3], [20.25, -35], [20.31, -64], [20.4, -78], [20.5, -80],
]
const b05MpEdc = [
  [0, -79], [0.5, -78],
  [0.504, -5], [0.53, 29], [0.6, -5], [0.66, -31], [0.71, -56], [0.75, -72], [0.79, -80], [0.86, -81.5], [2.5, -77],
  [2.504, -5], [2.53, 29], [2.6, -5], [2.66, -31], [2.71, -56], [2.75, -72], [2.79, -80], [2.86, -81.5], [4.5, -77],
  [4.504, -5], [4.53, 29], [4.6, -5], [4.66, -31], [4.71, -56], [4.75, -72], [4.79, -80], [4.86, -81.5], [6.5, -77],
  [6.504, -5], [6.53, 29], [6.6, -5], [6.66, -31], [6.71, -56], [6.75, -72], [6.79, -80], [6.86, -81.5], [8.5, -77],
  [8.504, -5], [8.53, 29], [8.6, -5], [8.66, -31], [8.71, -56], [8.75, -72], [8.79, -80], [8.86, -81.5], [10.5, -77],
  [10.504, -5], [10.53, 29], [10.6, -5], [10.66, -31], [10.71, -56], [10.75, -72], [10.79, -80], [10.86, -81.5], [12.5, -77],
  [12.504, -5], [12.53, 29], [12.6, -5], [12.66, -31], [12.71, -56], [12.75, -72], [12.79, -80], [12.86, -81.5], [14.5, -77],
  [14.504, -5], [14.53, 29], [14.6, -5], [14.66, -31], [14.71, -56], [14.75, -72], [14.79, -80], [14.86, -81.5], [16.5, -77],
  [16.504, -5], [16.53, 29], [16.6, -5], [16.66, -31], [16.71, -56], [16.75, -72], [16.79, -80], [16.86, -81.5], [18.5, -77],
  [18.504, -5], [18.53, 29], [18.6, -5], [18.66, -31], [18.71, -56], [18.75, -72], [18.79, -80], [18.86, -81.5], [20.5, -77.5],
]
const b05MpOdc = [
  [0, -75], [0.5, -74],
  [0.504, -5], [0.53, 28], [0.6, -3], [0.66, -28], [0.71, -52], [0.76, -70], [0.8, -77], [0.86, -79], [2.5, -72],
  [2.504, -5], [2.53, 28], [2.6, -3], [2.66, -28], [2.71, -52], [2.76, -70], [2.8, -77], [2.86, -79], [4.5, -72],
  [4.504, -5], [4.53, 28], [4.6, -3], [4.66, -28], [4.71, -52], [4.76, -70], [4.8, -77], [4.86, -79], [6.5, -72],
  [6.504, -5], [6.53, 28], [6.6, -3], [6.66, -28], [6.71, -52], [6.76, -70], [6.8, -77], [6.86, -79], [8.5, -72],
  [8.504, -5], [8.53, 28], [8.6, -3], [8.66, -28], [8.71, -52], [8.76, -70], [8.8, -77], [8.86, -79], [10.5, -72],
  [10.504, -5], [10.53, 28], [10.6, -3], [10.66, -28], [10.71, -52], [10.76, -70], [10.8, -77], [10.86, -79], [12.5, -72],
  [12.504, -5], [12.53, 28], [12.6, -3], [12.66, -28], [12.71, -52], [12.76, -70], [12.8, -77], [12.86, -79], [14.5, -72],
  [14.504, -5], [14.53, 28], [14.6, -3], [14.66, -28], [14.71, -52], [14.76, -70], [14.8, -77], [14.86, -79], [16.5, -72],
  [16.504, -5], [16.53, 28], [16.6, -3], [16.66, -28], [16.71, -52], [16.76, -70], [16.8, -77], [16.86, -79], [18.5, -72],
  [18.504, -5], [18.53, 28], [18.6, -3], [18.66, -28], [18.71, -52], [18.76, -70], [18.8, -77], [18.86, -79], [20.5, -73],
]
const b05TcEdc = [
  [0, 0.6], [0.5, 0.62],
  [0.502, 0.05], [0.7, 0.1], [0.725, 1.0], [0.75, 0.45], [0.78, 0.08], [1.1, 0.22], [1.5, 0.43], [1.95, 0.63], [2.3, 0.74], [2.5, 0.72],
  [2.502, 0.05], [2.7, 0.1], [2.725, 1.0], [2.75, 0.45], [2.78, 0.08], [3.1, 0.24], [3.5, 0.45], [3.95, 0.64], [4.3, 0.72], [4.5, 0.7],
  [4.502, 0.05], [4.7, 0.1], [4.725, 1.0], [4.75, 0.45], [4.78, 0.06], [5.1, 0.2], [5.5, 0.4], [5.95, 0.6], [6.3, 0.68], [6.5, 0.68],
  [6.502, 0.05], [6.7, 0.1], [6.725, 1.0], [6.75, 0.45], [6.78, 0.1], [7.1, 0.24], [7.5, 0.45], [7.95, 0.63], [8.3, 0.72], [8.5, 0.7],
  [8.502, 0.05], [8.7, 0.1], [8.725, 1.0], [8.75, 0.45], [8.78, 0.08], [9.1, 0.22], [9.5, 0.44], [9.95, 0.64], [10.3, 0.72], [10.5, 0.71],
  [10.502, 0.05], [10.7, 0.1], [10.725, 1.0], [10.75, 0.45], [10.78, 0.04], [11.1, 0.18], [11.5, 0.4], [11.95, 0.62], [12.3, 0.72], [12.5, 0.72],
  [12.502, 0.05], [12.7, 0.1], [12.725, 1.0], [12.75, 0.45], [12.78, 0.1], [13.1, 0.26], [13.5, 0.5], [13.95, 0.64], [14.3, 0.7], [14.5, 0.68],
  [14.502, 0.05], [14.7, 0.1], [14.725, 1.0], [14.75, 0.45], [14.78, 0.05], [15.1, 0.2], [15.5, 0.43], [15.95, 0.63], [16.3, 0.72], [16.5, 0.7],
  [16.502, 0.05], [16.7, 0.1], [16.725, 1.0], [16.75, 0.45], [16.78, 0.08], [17.1, 0.23], [17.5, 0.45], [17.95, 0.64], [18.3, 0.72], [18.5, 0.7],
  [18.502, 0.05], [18.7, 0.1], [18.725, 1.0], [18.75, 0.45], [18.78, 0.08], [19.1, 0.22], [19.5, 0.43], [19.95, 0.63], [20.5, 0.72],
]
const b05TcOdc = [
  [0, 0.85], [0.5, 0.88],
  [0.502, 0.06], [0.7, 0.12], [0.725, 1.0], [0.75, 0.5], [0.78, 0.16], [1.1, 0.34], [1.5, 0.6], [1.9, 0.82], [2.3, 0.93], [2.5, 0.95],
  [2.502, 0.06], [2.7, 0.12], [2.725, 1.0], [2.75, 0.5], [2.78, 0.18], [3.1, 0.38], [3.5, 0.62], [3.9, 0.83], [4.3, 0.93], [4.5, 0.95],
  [4.502, 0.06], [4.7, 0.12], [4.725, 1.0], [4.75, 0.5], [4.78, 0.16], [5.1, 0.34], [5.5, 0.6], [5.9, 0.82], [6.3, 0.92], [6.5, 0.94],
  [6.502, 0.06], [6.7, 0.12], [6.725, 1.0], [6.75, 0.5], [6.78, 0.2], [7.1, 0.4], [7.5, 0.64], [7.9, 0.84], [8.3, 0.93], [8.5, 0.95],
  [8.502, 0.06], [8.7, 0.12], [8.725, 1.0], [8.75, 0.5], [8.78, 0.16], [9.1, 0.34], [9.5, 0.6], [9.9, 0.82], [10.3, 0.93], [10.5, 0.95],
  [10.502, 0.06], [10.7, 0.12], [10.725, 1.0], [10.75, 0.5], [10.78, 0.14], [11.1, 0.32], [11.5, 0.58], [11.9, 0.8], [12.3, 0.92], [12.5, 0.95],
  [12.502, 0.06], [12.7, 0.12], [12.725, 1.0], [12.75, 0.5], [12.78, 0.22], [13.1, 0.42], [13.5, 0.66], [13.9, 0.84], [14.3, 0.93], [14.5, 0.95],
  [14.502, 0.06], [14.7, 0.12], [14.725, 1.0], [14.75, 0.5], [14.78, 0.16], [15.1, 0.34], [15.5, 0.6], [15.9, 0.82], [16.3, 0.93], [16.5, 0.95],
  [16.502, 0.06], [16.7, 0.12], [16.725, 1.0], [16.75, 0.5], [16.78, 0.2], [17.1, 0.38], [17.5, 0.62], [17.9, 0.83], [18.3, 0.93], [18.5, 0.95],
  [18.502, 0.06], [18.7, 0.12], [18.725, 1.0], [18.75, 0.5], [18.78, 0.17], [19.1, 0.35], [19.5, 0.6], [19.9, 0.82], [20.5, 0.94],
]
const b05LiOdc = [
  [0, 0.05], [0.5, 0.055],
  [0.502, 0.003], [0.7, 0.004], [0.725, 0.092], [0.75, 0.04], [0.77, 0.008], [1.1, 0.025], [1.5, 0.045], [2.0, 0.063], [2.5, 0.072],
  [2.502, 0.003], [2.7, 0.004], [2.725, 0.092], [2.75, 0.04], [2.77, 0.008], [3.1, 0.025], [3.5, 0.045], [4.0, 0.063], [4.5, 0.072],
  [4.502, 0.003], [4.7, 0.004], [4.725, 0.092], [4.75, 0.04], [4.77, 0.008], [5.1, 0.025], [5.5, 0.045], [6.0, 0.063], [6.5, 0.072],
  [6.502, 0.003], [6.7, 0.004], [6.725, 0.092], [6.75, 0.04], [6.77, 0.008], [7.1, 0.025], [7.5, 0.045], [8.0, 0.063], [8.5, 0.072],
  [8.502, 0.003], [8.7, 0.004], [8.725, 0.092], [8.75, 0.04], [8.77, 0.008], [9.1, 0.025], [9.5, 0.045], [10.0, 0.063], [10.5, 0.072],
  [10.502, 0.003], [10.7, 0.004], [10.725, 0.092], [10.75, 0.04], [10.77, 0.008], [11.1, 0.025], [11.5, 0.045], [12.0, 0.063], [12.5, 0.072],
  [12.502, 0.003], [12.7, 0.004], [12.725, 0.092], [12.75, 0.04], [12.77, 0.008], [13.1, 0.025], [13.5, 0.045], [14.0, 0.063], [14.5, 0.072],
  [14.502, 0.003], [14.7, 0.004], [14.725, 0.092], [14.75, 0.04], [14.77, 0.008], [15.1, 0.025], [15.5, 0.045], [16.0, 0.063], [16.5, 0.072],
  [16.502, 0.003], [16.7, 0.004], [16.725, 0.092], [16.75, 0.04], [16.77, 0.008], [17.1, 0.025], [17.5, 0.045], [18.0, 0.063], [18.5, 0.072],
  [18.502, 0.003], [18.7, 0.004], [18.725, 0.092], [18.75, 0.04], [18.77, 0.008], [19.1, 0.025], [19.5, 0.045], [20.0, 0.063], [20.5, 0.07],
]

// ---------- B, 1 Hz ----------
const b1MpCtrl = [
  [0, -66], [0.1, -62], [0.18, -52], [0.22, 22], [0.3, -8], [0.36, -42], [0.42, -70], [0.48, -78], [0.5, -78],
  [0.504, -3], [0.53, 26], [0.6, -3], [0.66, -28], [0.71, -52], [0.76, -70], [0.82, -82], [0.95, -84], [1.0, -68], [1.05, -75], [1.15, -72], [1.25, -66], [1.3, -58], [1.34, 22], [1.41, -8], [1.46, -45], [1.5, -60],
  [1.504, -3], [1.53, 26], [1.6, -2], [1.7, -28], [1.8, -52], [1.9, -66], [2.05, -74], [2.25, -79], [2.38, -70], [2.45, -76], [2.5, -78],
  [2.504, -3], [2.53, 26], [2.6, -3], [2.66, -28], [2.71, -52], [2.76, -70], [2.82, -82], [2.9, -83], [3.0, -75], [3.1, -72], [3.2, -75], [3.35, -70], [3.45, -65], [3.5, -64],
  [3.504, -3], [3.53, 26], [3.6, -3], [3.66, -28], [3.71, -52], [3.76, -70], [3.82, -82], [3.9, -84], [4.0, -76], [4.12, -68], [4.2, -58], [4.24, 22], [4.31, -10], [4.37, -50], [4.44, -72], [4.5, -75],
  [4.504, -3], [4.53, 26], [4.6, -2], [4.7, -25], [4.8, -50], [4.95, -64], [5.2, -68], [5.45, -64], [5.5, -64],
  [5.504, -3], [5.53, 26], [5.6, -3], [5.66, -28], [5.71, -52], [5.76, -70], [5.85, -75], [6.1, -76], [6.3, -73], [6.5, -70],
  [6.504, -3], [6.53, 26], [6.6, -3], [6.66, -28], [6.71, -52], [6.76, -70], [6.82, -83], [7.0, -80], [7.25, -76], [7.5, -72],
  [7.504, -3], [7.53, 26], [7.6, -3], [7.66, -28], [7.71, -52], [7.76, -70], [7.82, -82], [8.1, -76], [8.3, -68], [8.5, -66],
  [8.504, -3], [8.53, 26], [8.6, -3], [8.66, -28], [8.71, -52], [8.76, -70], [8.82, -82], [9.1, -78], [9.3, -72], [9.5, -68],
  [9.504, -3], [9.53, 26], [9.6, -3], [9.66, -28], [9.71, -52], [9.76, -70], [9.82, -80], [10.1, -68], [10.46, -63],
]
const b1MpEdc = [
  [0, -80], [0.5, -79],
  [0.504, -5], [0.53, 28], [0.6, -5], [0.66, -31], [0.71, -56], [0.75, -72], [0.79, -81], [0.86, -84], [1.5, -77],
  [1.504, -5], [1.53, 28], [1.6, -5], [1.66, -31], [1.71, -56], [1.75, -72], [1.79, -81], [1.86, -84], [2.5, -77],
  [2.504, -5], [2.53, 28], [2.6, -5], [2.66, -31], [2.71, -56], [2.75, -72], [2.79, -81], [2.86, -84], [3.5, -77],
  [3.504, -5], [3.53, 28], [3.6, -5], [3.66, -31], [3.71, -56], [3.75, -72], [3.79, -81], [3.86, -84], [4.5, -77],
  [4.504, -5], [4.53, 28], [4.6, -5], [4.66, -31], [4.71, -56], [4.75, -72], [4.79, -81], [4.86, -84], [5.5, -77],
  [5.504, -5], [5.53, 28], [5.6, -5], [5.66, -31], [5.71, -56], [5.75, -72], [5.79, -81], [5.86, -84], [6.5, -77],
  [6.504, -5], [6.53, 28], [6.6, -5], [6.66, -31], [6.71, -56], [6.75, -72], [6.79, -81], [6.86, -84], [7.5, -77],
  [7.504, -5], [7.53, 28], [7.6, -5], [7.66, -31], [7.71, -56], [7.75, -72], [7.79, -81], [7.86, -84], [8.5, -77],
  [8.504, -5], [8.53, 28], [8.6, -5], [8.66, -31], [8.71, -56], [8.75, -72], [8.79, -81], [8.86, -84], [9.5, -77],
  [9.504, -5], [9.53, 28], [9.6, -5], [9.66, -31], [9.71, -56], [9.75, -72], [9.79, -81], [9.86, -84], [10.46, -78],
]
const b1MpOdc = [
  [0, -78], [0.5, -77],
  [0.504, -5], [0.53, 27], [0.6, -3], [0.66, -28], [0.71, -52], [0.76, -70], [0.8, -78], [0.86, -82], [1.5, -71],
  [1.504, -5], [1.53, 27], [1.6, -3], [1.66, -28], [1.71, -52], [1.76, -70], [1.8, -78], [1.86, -82], [2.5, -71],
  [2.504, -5], [2.53, 27], [2.6, -3], [2.66, -28], [2.71, -52], [2.76, -70], [2.8, -78], [2.86, -82], [3.5, -71],
  [3.504, -5], [3.53, 27], [3.6, -3], [3.66, -28], [3.71, -52], [3.76, -70], [3.8, -78], [3.86, -82], [4.5, -71],
  [4.504, -5], [4.53, 27], [4.6, -3], [4.66, -28], [4.71, -52], [4.76, -70], [4.8, -78], [4.86, -82], [5.5, -71],
  [5.504, -5], [5.53, 27], [5.6, -3], [5.66, -28], [5.71, -52], [5.76, -70], [5.8, -78], [5.86, -82], [6.5, -71],
  [6.504, -5], [6.53, 27], [6.6, -3], [6.66, -28], [6.71, -52], [6.76, -70], [6.8, -78], [6.86, -82], [7.5, -71],
  [7.504, -5], [7.53, 27], [7.6, -3], [7.66, -28], [7.71, -52], [7.76, -70], [7.8, -78], [7.86, -82], [8.5, -71],
  [8.504, -5], [8.53, 27], [8.6, -3], [8.66, -28], [8.71, -52], [8.76, -70], [8.8, -78], [8.86, -82], [9.5, -71],
  [9.504, -5], [9.53, 27], [9.6, -3], [9.66, -28], [9.71, -52], [9.76, -70], [9.8, -78], [9.86, -82], [10.46, -74],
]
const b1TcEdc = [
  [0, 0.55], [0.25, 0.66], [0.5, 0.6],
  [0.502, 0.05], [0.7, 0.08], [0.725, 1.0], [0.75, 0.45], [0.78, 0.15], [1.0, 0.32], [1.25, 0.46], [1.5, 0.55],
  [1.502, 0.05], [1.7, 0.08], [1.725, 1.0], [1.75, 0.45], [1.78, 0.12], [2.0, 0.3], [2.25, 0.45], [2.5, 0.54],
  [2.502, 0.05], [2.7, 0.08], [2.725, 1.0], [2.75, 0.45], [2.78, 0.15], [3.0, 0.32], [3.25, 0.46], [3.5, 0.55],
  [3.502, 0.05], [3.7, 0.08], [3.725, 1.0], [3.75, 0.45], [3.78, 0.1], [4.0, 0.28], [4.25, 0.44], [4.5, 0.53],
  [4.502, 0.05], [4.7, 0.08], [4.725, 1.0], [4.75, 0.45], [4.78, 0.08], [5.0, 0.26], [5.25, 0.44], [5.5, 0.55],
  [5.502, 0.05], [5.7, 0.08], [5.725, 1.0], [5.75, 0.45], [5.78, 0.12], [6.0, 0.3], [6.25, 0.46], [6.5, 0.55],
  [6.502, 0.05], [6.7, 0.08], [6.725, 1.0], [6.75, 0.45], [6.78, 0.15], [7.0, 0.32], [7.25, 0.47], [7.5, 0.56],
  [7.502, 0.05], [7.7, 0.08], [7.725, 1.0], [7.75, 0.45], [7.78, 0.14], [8.0, 0.31], [8.25, 0.45], [8.5, 0.55],
  [8.502, 0.05], [8.7, 0.08], [8.725, 1.0], [8.75, 0.45], [8.78, 0.12], [9.0, 0.3], [9.25, 0.45], [9.5, 0.55],
  [9.502, 0.05], [9.7, 0.08], [9.725, 1.0], [9.75, 0.45], [9.78, 0.14], [10.0, 0.3], [10.25, 0.45], [10.46, 0.53],
]
const b1TcOdc = [
  [0, 0.97], [0.5, 0.97],
  [0.502, 0.06], [0.7, 0.1], [0.725, 1.0], [0.75, 0.55], [0.78, 0.3], [1.0, 0.52], [1.25, 0.7], [1.5, 0.82],
  [1.502, 0.06], [1.7, 0.1], [1.725, 1.0], [1.75, 0.55], [1.78, 0.28], [2.0, 0.5], [2.25, 0.68], [2.5, 0.8],
  [2.502, 0.06], [2.7, 0.1], [2.725, 1.0], [2.75, 0.55], [2.78, 0.3], [3.0, 0.52], [3.25, 0.7], [3.5, 0.82],
  [3.502, 0.06], [3.7, 0.1], [3.725, 1.0], [3.75, 0.55], [3.78, 0.27], [4.0, 0.5], [4.25, 0.68], [4.5, 0.8],
  [4.502, 0.06], [4.7, 0.1], [4.725, 1.0], [4.75, 0.55], [4.78, 0.26], [5.0, 0.48], [5.25, 0.67], [5.5, 0.8],
  [5.502, 0.06], [5.7, 0.1], [5.725, 1.0], [5.75, 0.55], [5.78, 0.3], [6.0, 0.52], [6.25, 0.7], [6.5, 0.82],
  [6.502, 0.06], [6.7, 0.1], [6.725, 1.0], [6.75, 0.55], [6.78, 0.3], [7.0, 0.52], [7.25, 0.7], [7.5, 0.82],
  [7.502, 0.06], [7.7, 0.1], [7.725, 1.0], [7.75, 0.55], [7.78, 0.29], [8.0, 0.51], [8.25, 0.69], [8.5, 0.81],
  [8.502, 0.06], [8.7, 0.1], [8.725, 1.0], [8.75, 0.55], [8.78, 0.28], [9.0, 0.5], [9.25, 0.68], [9.5, 0.8],
  [9.502, 0.06], [9.7, 0.1], [9.725, 1.0], [9.75, 0.55], [9.78, 0.3], [10.0, 0.52], [10.25, 0.7], [10.46, 0.79],
]
const b1LiOdc = [
  [0, 0.055], [0.5, 0.058],
  [0.502, 0.003], [0.7, 0.004], [0.725, 0.09], [0.75, 0.03], [0.77, 0.01], [1.0, 0.025], [1.25, 0.04], [1.5, 0.052],
  [1.502, 0.003], [1.7, 0.004], [1.725, 0.09], [1.75, 0.03], [1.77, 0.01], [2.0, 0.025], [2.25, 0.04], [2.5, 0.052],
  [2.502, 0.003], [2.7, 0.004], [2.725, 0.09], [2.75, 0.03], [2.77, 0.01], [3.0, 0.025], [3.25, 0.04], [3.5, 0.052],
  [3.502, 0.003], [3.7, 0.004], [3.725, 0.09], [3.75, 0.03], [3.77, 0.01], [4.0, 0.025], [4.25, 0.04], [4.5, 0.052],
  [4.502, 0.003], [4.7, 0.004], [4.725, 0.09], [4.75, 0.03], [4.77, 0.01], [5.0, 0.025], [5.25, 0.04], [5.5, 0.052],
  [5.502, 0.003], [5.7, 0.004], [5.725, 0.09], [5.75, 0.03], [5.77, 0.01], [6.0, 0.025], [6.25, 0.04], [6.5, 0.052],
  [6.502, 0.003], [6.7, 0.004], [6.725, 0.09], [6.75, 0.03], [6.77, 0.01], [7.0, 0.025], [7.25, 0.04], [7.5, 0.052],
  [7.502, 0.003], [7.7, 0.004], [7.725, 0.09], [7.75, 0.03], [7.77, 0.01], [8.0, 0.025], [8.25, 0.04], [8.5, 0.052],
  [8.502, 0.003], [8.7, 0.004], [8.725, 0.09], [8.75, 0.03], [8.77, 0.01], [9.0, 0.025], [9.25, 0.04], [9.5, 0.052],
  [9.502, 0.003], [9.7, 0.004], [9.725, 0.09], [9.75, 0.03], [9.77, 0.01], [10.0, 0.025], [10.25, 0.04], [10.46, 0.05],
]

// ---------- B, 2 Hz ----------
const b2MpCtrl = [
  [0, -75], [0.25, -73], [0.5, -70],
  [0.504, -6], [0.54, 25], [0.644, -11], [0.7, -38], [0.75, -58], [0.81, -67], [0.88, -73], [1, -77],
  [1.003, -15], [1.023, -66], [1.08, -75], [1.2, -78], [1.5, -80],
  [1.504, -6], [1.54, 25], [1.644, -11], [1.7, -38], [1.75, -58], [1.81, -67], [1.88, -73], [2, -77],
  [2.003, -15], [2.023, -66], [2.08, -75], [2.2, -78], [2.5, -80],
  [2.504, -6], [2.54, 25], [2.644, -11], [2.7, -38], [2.75, -58], [2.81, -67], [2.88, -73], [3, -77],
  [3.003, -15], [3.023, -66], [3.08, -75], [3.2, -78], [3.5, -80],
  [3.504, -6], [3.54, 25], [3.644, -11], [3.7, -38], [3.75, -58], [3.81, -67], [3.88, -73], [4, -77],
  [4.003, -15], [4.023, -66], [4.08, -75], [4.2, -78], [4.5, -80],
  [4.504, -6], [4.54, 25], [4.644, -11], [4.7, -38], [4.75, -58], [4.81, -67], [4.88, -73], [5, -77],
  [5.003, -15], [5.023, -66], [5.08, -75], [5.2, -78], [5.485, -80],
]
const b2MpEdc = [
  [0, -80], [0.5, -80],
  [0.504, -6], [0.54, 27], [0.644, -14], [0.7, -42], [0.735, -62], [0.765, -80], [0.79, -85], [1, -85],
  [1.003, -15], [1.012, -76], [1.03, -85], [1.5, -84],
  [1.504, -6], [1.54, 27], [1.644, -14], [1.7, -42], [1.735, -62], [1.765, -80], [1.79, -85], [2, -85],
  [2.003, -15], [2.012, -76], [2.03, -85], [2.5, -84],
  [2.504, -6], [2.54, 27], [2.644, -14], [2.7, -42], [2.735, -62], [2.765, -80], [2.79, -85], [3, -85],
  [3.003, -15], [3.012, -76], [3.03, -85], [3.5, -84],
  [3.504, -6], [3.54, 27], [3.644, -14], [3.7, -42], [3.735, -62], [3.765, -80], [3.79, -85], [4, -85],
  [4.003, -15], [4.012, -76], [4.03, -85], [4.5, -84],
  [4.504, -6], [4.54, 27], [4.644, -14], [4.7, -42], [4.735, -62], [4.765, -80], [4.79, -85], [5, -85],
  [5.003, -15], [5.012, -76], [5.03, -85], [5.485, -84],
]
const b2MpOdc = [
  [0, -79], [0.5, -78],
  [0.504, -6], [0.54, 26], [0.644, -11], [0.7, -37], [0.737, -56], [0.77, -74], [0.8, -81], [1, -81],
  [1.003, -16], [1.012, -74], [1.03, -81], [1.5, -80],
  [1.504, -6], [1.54, 26], [1.644, -11], [1.7, -37], [1.737, -56], [1.77, -74], [1.8, -81], [2, -81],
  [2.003, -16], [2.012, -74], [2.03, -81], [2.5, -80],
  [2.504, -6], [2.54, 26], [2.644, -11], [2.7, -37], [2.737, -56], [2.77, -74], [2.8, -81], [3, -81],
  [3.003, -16], [3.012, -74], [3.03, -81], [3.5, -80],
  [3.504, -6], [3.54, 26], [3.644, -11], [3.7, -37], [3.737, -56], [3.77, -74], [3.8, -81], [4, -81],
  [4.003, -16], [4.012, -74], [4.03, -81], [4.5, -80],
  [4.504, -6], [4.54, 26], [4.644, -11], [4.7, -37], [4.737, -56], [4.77, -74], [4.8, -81], [5, -81],
  [5.003, -16], [5.012, -74], [5.03, -81], [5.485, -80],
]
const b2TcEdc = [
  [0, 0.38], [0.25, 0.45], [0.5, 0.52],
  [0.502, 0.1], [0.6, 0.12], [0.71, 0.15], [0.735, 1.05], [0.755, 0.6], [0.79, 0.44], [0.88, 0.3], [0.95, 0.16], [1, 0.15],
  [1.002, 0.04], [1.02, 0.06], [1.035, 0.95], [1.05, 0.38], [1.2, 0.45], [1.5, 0.55],
  [1.502, 0.1], [1.6, 0.12], [1.71, 0.15], [1.735, 1.05], [1.755, 0.6], [1.79, 0.44], [1.88, 0.3], [1.95, 0.16], [2, 0.15],
  [2.002, 0.04], [2.02, 0.06], [2.035, 0.95], [2.05, 0.38], [2.2, 0.45], [2.5, 0.55],
  [2.502, 0.1], [2.6, 0.12], [2.71, 0.15], [2.735, 1.05], [2.755, 0.6], [2.79, 0.44], [2.88, 0.3], [2.95, 0.16], [3, 0.15],
  [3.002, 0.04], [3.02, 0.06], [3.035, 0.95], [3.05, 0.38], [3.2, 0.45], [3.5, 0.55],
  [3.502, 0.1], [3.6, 0.12], [3.71, 0.15], [3.735, 1.05], [3.755, 0.6], [3.79, 0.44], [3.88, 0.3], [3.95, 0.16], [4, 0.15],
  [4.002, 0.04], [4.02, 0.06], [4.035, 0.95], [4.05, 0.38], [4.2, 0.45], [4.5, 0.55],
  [4.502, 0.1], [4.6, 0.12], [4.71, 0.15], [4.735, 1.05], [4.755, 0.6], [4.79, 0.44], [4.88, 0.3], [4.95, 0.16], [5, 0.15],
  [5.002, 0.04], [5.02, 0.06], [5.035, 0.95], [5.05, 0.38], [5.2, 0.45], [5.485, 0.54],
]
const b2TcOdc = [
  [0, 0.6], [0.25, 0.72], [0.5, 0.85],
  [0.502, 0.11], [0.6, 0.13], [0.71, 0.17], [0.735, 1.07], [0.755, 0.72], [0.79, 0.61], [0.9, 0.5], [1, 0.4],
  [1.002, 0.05], [1.02, 0.07], [1.035, 1.0], [1.05, 0.6], [1.15, 0.66], [1.35, 0.82], [1.5, 0.92],
  [1.502, 0.11], [1.6, 0.13], [1.71, 0.17], [1.735, 1.07], [1.755, 0.72], [1.79, 0.61], [1.9, 0.5], [2, 0.4],
  [2.002, 0.05], [2.02, 0.07], [2.035, 1.0], [2.05, 0.6], [2.15, 0.66], [2.35, 0.82], [2.5, 0.92],
  [2.502, 0.11], [2.6, 0.13], [2.71, 0.17], [2.735, 1.07], [2.755, 0.72], [2.79, 0.61], [2.9, 0.5], [3, 0.4],
  [3.002, 0.05], [3.02, 0.07], [3.035, 1.0], [3.05, 0.6], [3.15, 0.66], [3.35, 0.82], [3.5, 0.92],
  [3.502, 0.11], [3.6, 0.13], [3.71, 0.17], [3.735, 1.07], [3.755, 0.72], [3.79, 0.61], [3.9, 0.5], [4, 0.4],
  [4.002, 0.05], [4.02, 0.07], [4.035, 1.0], [4.05, 0.6], [4.15, 0.66], [4.35, 0.82], [4.5, 0.92],
  [4.502, 0.11], [4.6, 0.13], [4.71, 0.17], [4.735, 1.07], [4.755, 0.72], [4.79, 0.61], [4.9, 0.5], [5, 0.4],
  [5.002, 0.05], [5.02, 0.07], [5.035, 1.0], [5.05, 0.6], [5.15, 0.66], [5.35, 0.82], [5.485, 0.9],
]
const b2LiOdc = [
  [0, 0.025], [0.25, 0.04], [0.5, 0.06],
  [0.502, 0.003], [0.71, 0.004], [0.735, 0.093], [0.755, 0.03], [0.775, 0.012], [1, 0.03],
  [1.002, 0.003], [1.02, 0.004], [1.035, 0.095], [1.05, 0.03], [1.07, 0.022], [1.5, 0.06],
  [1.502, 0.003], [1.71, 0.004], [1.735, 0.093], [1.755, 0.03], [1.775, 0.012], [2, 0.03],
  [2.002, 0.003], [2.02, 0.004], [2.035, 0.095], [2.05, 0.03], [2.07, 0.022], [2.5, 0.06],
  [2.502, 0.003], [2.71, 0.004], [2.735, 0.093], [2.755, 0.03], [2.775, 0.012], [3, 0.03],
  [3.002, 0.003], [3.02, 0.004], [3.035, 0.095], [3.05, 0.03], [3.07, 0.022], [3.5, 0.06],
  [3.502, 0.003], [3.71, 0.004], [3.735, 0.093], [3.755, 0.03], [3.775, 0.012], [4, 0.03],
  [4.002, 0.003], [4.02, 0.004], [4.035, 0.095], [4.05, 0.03], [4.07, 0.022], [4.5, 0.06],
  [4.502, 0.003], [4.71, 0.004], [4.735, 0.093], [4.755, 0.03], [4.775, 0.012], [5, 0.03],
  [5.002, 0.003], [5.02, 0.004], [5.035, 0.095], [5.05, 0.03], [5.07, 0.022], [5.485, 0.058],
]

// ---------- layout (the figure is drawn landscape, then turned 90deg) ----------
type Pair = number[]
type Row = {
  base: number
  tMax: number
  tTicks: number[]
  tDigits: number
  pace: string
  beats: number[]
  filled: number[]
  mpCtrl: Pair[]
  mpEdc: Pair[]
  mpOdc: Pair[]
  tcEdc: Pair[]
  tcOdc: Pair[]
  li: Pair[]
}
type Panel = { letter: string; left: number; liMax: number; liTicks: number[]; liDigits: number; rows: Row[] }

const panels: Panel[] = [
  {
    letter: 'A', left: 109, liMax: 0.28, liTicks: liTicksA, liDigits: 1,
    rows: [
      { base: 313, tMax: 20.5, tTicks: t05Ticks, tDigits: 0, pace: '0.5Hz Pace', beats: a05Beats, filled: a05Filled, mpCtrl: a05MpCtrl, mpEdc: a05MpEdc, mpOdc: a05MpOdc, tcEdc: a05TcEdc, tcOdc: a05TcOdc, li: a05LiOdc },
      { base: 664, tMax: 10.46, tTicks: t1Ticks, tDigits: 1, pace: '1Hz Pace', beats: a1Beats, filled: a1Filled, mpCtrl: a1MpCtrl, mpEdc: a1MpEdc, mpOdc: a1MpOdc, tcEdc: a1TcEdc, tcOdc: a1TcOdc, li: a1LiOdc },
      { base: 1015, tMax: 5.485, tTicks: t2Ticks, tDigits: 0, pace: '2Hz Pace', beats: a2Beats, filled: a2Filled, mpCtrl: a2MpCtrl, mpEdc: a2MpEdc, mpOdc: a2MpOdc, tcEdc: a2TcEdc, tcOdc: a2TcOdc, li: a2LiOdc },
    ],
  },
  {
    letter: 'B', left: 1013, liMax: 0.1, liTicks: liTicksB, liDigits: 2,
    rows: [
      { base: 313, tMax: 20.5, tTicks: t05Ticks, tDigits: 0, pace: '0.5Hz Pace', beats: b05Beats, filled: b05Filled, mpCtrl: b05MpCtrl, mpEdc: b05MpEdc, mpOdc: b05MpOdc, tcEdc: b05TcEdc, tcOdc: b05TcOdc, li: b05LiOdc },
      { base: 664, tMax: 10.46, tTicks: t1Ticks, tDigits: 1, pace: '1Hz Pace', beats: b1Beats, filled: b1Filled, mpCtrl: b1MpCtrl, mpEdc: b1MpEdc, mpOdc: b1MpOdc, tcEdc: b1TcEdc, tcOdc: b1TcOdc, li: b1LiOdc },
      { base: 1015, tMax: 5.485, tTicks: t2Ticks, tDigits: 0, pace: '2Hz Pace', beats: b2Beats, filled: b2Filled, mpCtrl: b2MpCtrl, mpEdc: b2MpEdc, mpOdc: b2MpOdc, tcEdc: b2TcEdc, tcOdc: b2TcOdc, li: b2LiOdc },
    ],
  },
]

const PLOT_W = 803
const YW = 46
const PAD = 12
const MP_H = 139
const TC_H = 69.3
const LI_H = 40
const XH = 28

const toPts = (a: Pair[]) => a.map(([t, v]) => ({ t, v }))
const minus = (v: number) => (v < 0 ? `\u2212${Math.abs(v)}` : `${v}`)
const tickStyle = { fontSize: 14, fill: '#000', fontFamily: FONT }
const axisStroke = { stroke: '#000', strokeWidth: 1 }

const OpenTri = (p: any) => (
  <path d={`M${p.cx - 4.5},${p.cy - 4} L${p.cx + 4.5},${p.cy - 4} L${p.cx},${p.cy + 4} Z`} fill="#fff" stroke="#666" strokeWidth={0.9} />
)
const FilledTri = (p: any) => (
  <path d={`M${p.cx - 5},${p.cy - 4.5} L${p.cx + 5},${p.cy - 4.5} L${p.cx},${p.cy + 4.5} Z`} fill="#000" stroke="#000" strokeWidth={0.8} />
)

const trace = (d: Pair[], color: string, w: number) => (
  <Line data={toPts(d)} dataKey="v" type="monotone" stroke={color} strokeWidth={w} dot={false} activeDot={false} isAnimationActive={false} />
)

function yAxis(domain: number[], ticks: number[], fmt: (v: number) => string) {
  return (
    <YAxis type="number" domain={domain} ticks={ticks} interval={0} allowDataOverflow width={YW} tickSize={5} tickMargin={2}
      axisLine={axisStroke} tickLine={axisStroke} tick={tickStyle} tickFormatter={fmt} />
  )
}

function RowCharts({ p, r }: { p: Panel; r: Row }) {
  const open = r.beats.filter((b) => !r.filled.includes(b)).map((t) => ({ t, v: 38.5 }))
  const filled = r.filled.map((t) => ({ t, v: 38.5 }))
  return (
    <>
      <div style={{ position: 'absolute', left: p.left - YW, top: r.base - 283 - PAD }}>
        <ComposedChart width={PLOT_W + YW + PAD} height={MP_H + 2 * PAD} margin={{ top: PAD, right: PAD, bottom: PAD, left: 0 }}>
          <XAxis type="number" dataKey="t" domain={[0, r.tMax]} hide allowDataOverflow />
          {yAxis([-86.3, 46], mpTicks, minus)}
          {trace(r.mpCtrl, GRAY, 1.3)}
          {trace(r.mpEdc, ORANGE, 1.5)}
          {trace(r.mpOdc, GREEN, 1.5)}
          <Scatter data={open} dataKey="v" shape={OpenTri} isAnimationActive={false} />
          <Scatter data={filled} dataKey="v" shape={FilledTri} isAnimationActive={false} />
        </ComposedChart>
      </div>
      <div style={{ position: 'absolute', left: p.left - YW, top: r.base - 57 - TC_H - PAD }}>
        <ComposedChart width={PLOT_W + YW + PAD} height={TC_H + 2 * PAD} margin={{ top: PAD, right: PAD, bottom: PAD, left: 0 }}>
          <XAxis type="number" dataKey="t" domain={[0, r.tMax]} hide allowDataOverflow />
          {yAxis([0, 1.1], tcTicks, (v) => v.toFixed(1))}
          {trace(r.tcEdc, ORANGE, 3.5)}
          {trace(r.tcOdc, GREEN, 3.5)}
        </ComposedChart>
      </div>
      <div style={{ position: 'absolute', left: p.left - YW, top: r.base - LI_H - PAD }}>
        <ComposedChart width={PLOT_W + YW + PAD} height={LI_H + PAD + XH} margin={{ top: PAD, right: PAD, bottom: 0, left: 0 }}>
          <XAxis type="number" dataKey="t" domain={[0, r.tMax]} ticks={r.tTicks} interval={0} allowDataOverflow height={XH}
            tickSize={5} tickMargin={1} axisLine={axisStroke} tickLine={axisStroke} tick={tickStyle}
            tickFormatter={(v: number) => v.toFixed(r.tDigits)} />
          {yAxis([0, p.liMax], p.liTicks, (v) => v.toFixed(p.liDigits))}
          {trace(r.li, GREEN, 2)}
        </ComposedChart>
      </div>
      <div style={{ position: 'absolute', left: p.left + PLOT_W / 2, top: r.base - 291, transform: 'translate(-50%, -50%)', fontSize: 18, fontWeight: 700, whiteSpace: 'nowrap' }}>
        {r.pace}
      </div>
      <div style={{ position: 'absolute', left: p.left + PLOT_W / 2, top: r.base + 27, transform: 'translate(-50%, -50%)', fontSize: 17, whiteSpace: 'nowrap' }}>
        Time (sec)
      </div>
    </>
  )
}

const legendItems = [
  { label: 'Control', color: GRAY },
  { label: 'EDC', color: ORANGE },
  { label: 'ODC', color: GREEN },
]

function Legend({ left }: { left: number }) {
  return (
    <div style={{ position: 'absolute', left, top: 16, fontSize: 13.5, lineHeight: '18px' }}>
      {legendItems.map((it) => (
        <div key={it.label} style={{ display: 'flex', alignItems: 'center', whiteSpace: 'nowrap' }}>
          <span style={{ display: 'inline-block', width: 7, height: 1.6, background: it.color, marginRight: 3 }} />
          {it.label}
        </div>
      ))}
    </div>
  )
}

// axis titles stay upright on the final (portrait) page
const titleLines = [
  { key: 'mp', right: 283, lines: ['Membrane', 'Potential', '(mV)'] },
  { key: 'tc', right: 127, lines: ['Target', 'Current', '(pA/pF)'] },
  { key: 'li', right: 36, lines: ['Light', 'Intensity', 'LI'] },
]

function AxisTitle({ x, y, lines }: { x: number; y: number; lines: string[] }) {
  return (
    <div style={{ position: 'absolute', left: x - 160, width: 160, top: y, textAlign: 'right', fontSize: 17, lineHeight: '20px', whiteSpace: 'nowrap' }}>
      {lines.map((l) =>
        l === 'LI' ? (
          <div key={l}>(mW/mm<span style={{ fontSize: 11, verticalAlign: 'top', lineHeight: '12px' }}>2</span>)</div>
        ) : (
          <div key={l}>{l}</div>
        ),
      )}
    </div>
  )
}

export default function App() {
  return (
    <div style={{ position: 'absolute', left: 0, top: 0, width: 1061, height: 1817, overflow: 'hidden', background: '#fff', fontFamily: FONT, color: '#000' }}>
      <div style={{ position: 'absolute', left: 0, top: 0, width: 1817, height: 1061, transformOrigin: '0 0', transform: 'translateX(1061px) rotate(90deg)' }}>
        {panels.map((p) => (
          <React.Fragment key={p.letter}>
            {p.rows.map((r) => (
              <RowCharts key={r.pace} p={p} r={r} />
            ))}
            <div style={{ position: 'absolute', left: p.left - 87, top: 15, transform: 'translate(-50%, -50%)', fontSize: 22, fontWeight: 700 }}>
              {p.letter}
            </div>
            <Legend left={p.left + 750} />
          </React.Fragment>
        ))}
      </div>
      {panels.map((p) =>
        p.rows.map((r) =>
          titleLines.map((tl) => (
            <AxisTitle key={`${p.letter}-${r.pace}-${tl.key}`} x={1061 - r.base + tl.right} y={p.left - 94.5} lines={tl.lines} />
          )),
        ),
      )}
    </div>
  )
}
